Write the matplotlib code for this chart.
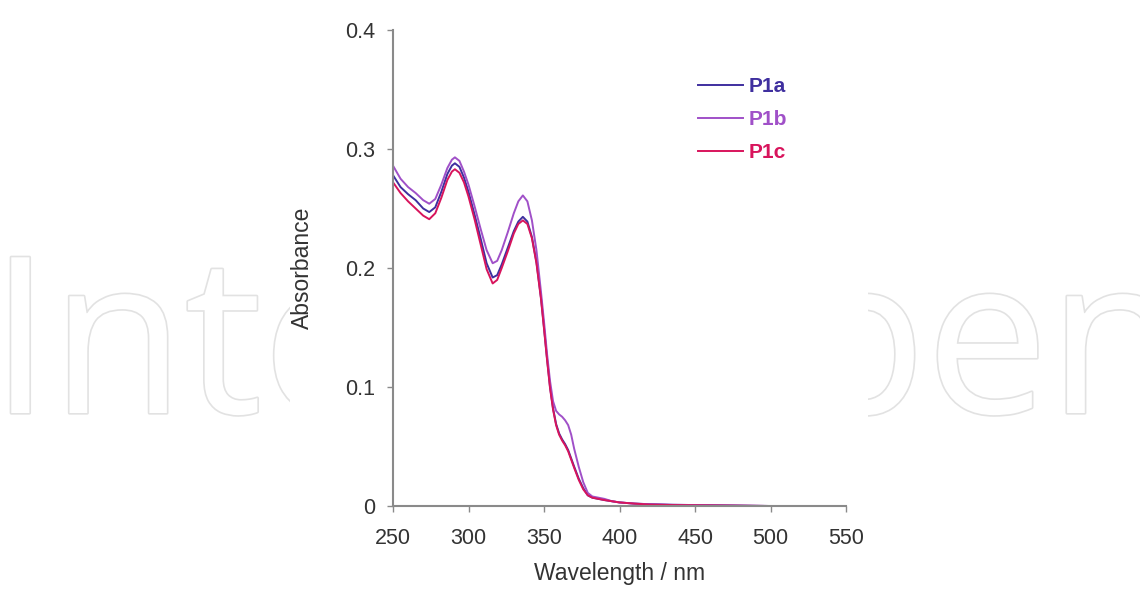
import matplotlib
matplotlib.use('Agg')
import matplotlib.pyplot as plt
import matplotlib.patheffects as pe
from matplotlib.patches import Rectangle

# wavelength (nm) and absorbance
wl = [250, 255, 260, 265, 270, 274, 278, 282, 286, 289, 291, 294, 297, 300, 304, 308, 312, 316,
      319, 322, 326, 330, 333, 336, 339, 342, 345, 348, 350, 352, 354, 356, 358, 360, 362, 364,
      366, 368, 370, 373, 376, 379, 382, 386, 390, 395, 400, 410, 420, 435, 450, 475, 500]

p1a = [0.278, 0.268, 0.262, 0.257, 0.250, 0.247, 0.251, 0.264, 0.279, 0.286, 0.288, 0.285, 0.276,
       0.264, 0.245, 0.225, 0.204, 0.192, 0.194, 0.203, 0.217, 0.231, 0.239, 0.243, 0.239, 0.226,
       0.205, 0.175, 0.150, 0.124, 0.100, 0.082, 0.069, 0.061, 0.056, 0.052, 0.047, 0.040, 0.033,
       0.023, 0.015, 0.009, 0.007, 0.006, 0.005, 0.004, 0.003, 0.002, 0.0015, 0.001, 0.0008,
       0.0004, 0.0]

p1b = [0.286, 0.275, 0.268, 0.263, 0.257, 0.254, 0.258, 0.270, 0.284, 0.291, 0.293, 0.290, 0.281,
       0.270, 0.252, 0.233, 0.215, 0.204, 0.206, 0.215, 0.230, 0.246, 0.256, 0.261, 0.256, 0.240,
       0.215, 0.180, 0.155, 0.128, 0.105, 0.088, 0.080, 0.077, 0.075, 0.072, 0.068, 0.060, 0.048,
       0.033, 0.020, 0.011, 0.008, 0.007, 0.006, 0.004, 0.003, 0.002, 0.0015, 0.001, 0.0008,
       0.0004, 0.0]

p1c = [0.272, 0.263, 0.256, 0.250, 0.244, 0.241, 0.246, 0.259, 0.274, 0.281, 0.283, 0.280, 0.272,
       0.260, 0.241, 0.220, 0.199, 0.187, 0.190, 0.200, 0.214, 0.229, 0.237, 0.240, 0.237, 0.225,
       0.204, 0.174, 0.149, 0.123, 0.099, 0.081, 0.068, 0.060, 0.055, 0.051, 0.046, 0.039, 0.032,
       0.022, 0.014, 0.009, 0.007, 0.006, 0.005, 0.004, 0.003, 0.002, 0.0012, 0.0008, 0.0006,
       0.0003, 0.0]

names = ['P1a', 'P1b', 'P1c']
colors = ['#3f2f9f', '#a050c8', '#d8145c']
xticks = [250, 300, 350, 400, 450, 500, 550]
yticks = [0, 0.1, 0.2, 0.3, 0.4]
yticklabels = ['0', '0.1', '0.2', '0.3', '0.4']

plt.rcParams['font.family'] = ['Liberation Sans', 'DejaVu Sans']

fig = plt.figure(figsize=(11.4, 5.89), dpi=100)

# watermark behind the chart, partly hidden by the white chart box
wm = fig.text(-10/1140, 1 - 413/589, 'IntechOpen', fontsize=157, family='Open Sans',
              color='white', ha='left', va='baseline', zorder=-3)
wm.set_path_effects([pe.withStroke(linewidth=2.4, foreground='#e2e2e2')])
fig.patches.append(Rectangle((290/1140, 0), (868 - 290)/1140, 1, transform=fig.transFigure,
                             facecolor='white', edgecolor='none', zorder=-2))

ax = fig.add_axes([393/1140, 1 - 506/589, (846 - 393)/1140, (506 - 30)/589])
ax.set_facecolor('none')

for y, n, c in zip([p1a, p1b, p1c], names, colors):
    ax.plot(wl, y, color=c, lw=1.4, label=n)

ax.set_xlim(250, 550)
ax.set_ylim(0, 0.4)
ax.set_xticks(xticks)
ax.set_yticks(yticks)
ax.set_yticklabels(yticklabels)

for s in ['top', 'right']:
    ax.spines[s].set_visible(False)
for s in ['left', 'bottom']:
    ax.spines[s].set_color('#8a8a8a')
    ax.spines[s].set_linewidth(1.5)

ax.tick_params(axis='both', colors='#8a8a8a', length=4, width=1, labelsize=15.5,
               labelcolor='#333333')
ax.tick_params(axis='x', pad=12)
ax.tick_params(axis='y', pad=9)

ax.set_xlabel('Wavelength / nm', fontsize=16.5, color='#333333', labelpad=9)
ax.set_ylabel('Absorbance', fontsize=16.5, color='#333333', labelpad=22)

leg = ax.legend(loc='upper left', bbox_to_anchor=(698/1140, 1 - 77/589),
                bbox_transform=fig.transFigure, frameon=False, handlelength=2.15,
                handletextpad=0.3, labelspacing=0.68, borderpad=0, borderaxespad=0,
                prop={'weight': 'bold', 'size': 15})
for t, c in zip(leg.get_texts(), colors):
    t.set_color(c)

fig.savefig('out.png', dpi=100, facecolor='white')
